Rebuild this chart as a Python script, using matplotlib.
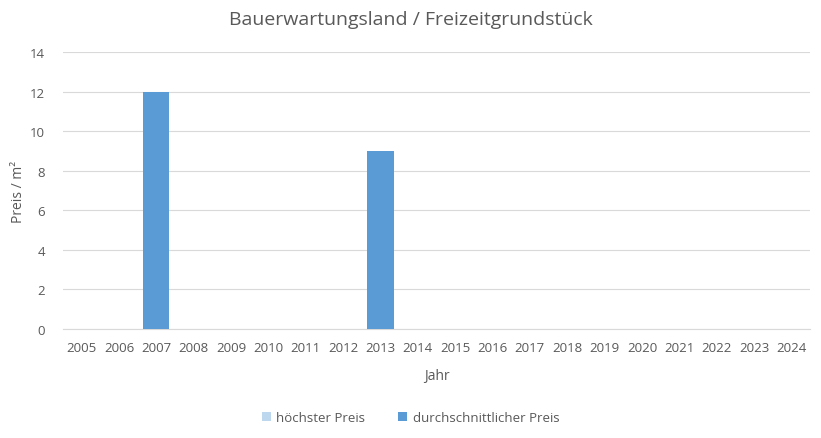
import matplotlib
matplotlib.use('Agg')
import matplotlib.pyplot as plt
import numpy as np

years = [str(y) for y in range(2005, 2025)]
hoechster = [0] * 20
durchschnitt = [0, 0, 12, 0, 0, 0, 0, 0, 9, 0, 0, 0, 0, 0, 0, 0, 0, 0, 0, 0]

plt.rcParams['font.family'] = ['Open Sans', 'DejaVu Sans']
grey = '#595959'

fig = plt.figure(figsize=(8.21, 4.39), dpi=100)
ax = fig.add_axes([0.0767, 0.2483, 0.91, 0.631])

x = np.arange(len(years))
ax.bar(x, hoechster, width=0.7, color='#BDD7EE', label='höchster Preis', zorder=2)
ax.bar(x, durchschnitt, width=0.7, color='#5B9BD5', label='durchschnittlicher Preis', zorder=3)

ax.set_xlim(-0.5, len(years) - 0.5)
ax.set_ylim(0, 14)
ax.set_yticks(range(0, 15, 2))
ax.set_xticks(x)
ax.set_xticklabels(years)
ax.grid(axis='y', color='#D9D9D9', linewidth=0.8, zorder=0)
for s in ['top', 'right', 'left']:
    ax.spines[s].set_visible(False)
ax.spines['bottom'].set_color('#D9D9D9')
ax.tick_params(axis='both', length=0, colors=grey, labelsize=9.5)
ax.tick_params(axis='y', pad=13)
ax.tick_params(axis='x', pad=9)

ax.set_xlabel('Jahr', color=grey, fontsize=10, labelpad=10)
ax.set_ylabel('Preis / m²', color=grey, fontsize=10, labelpad=3)
fig.suptitle('Bauerwartungsland / Freizeitgrundstück', color=grey, fontsize=14, y=0.975)

leg = fig.legend(loc='lower center', bbox_to_anchor=(0.5, 0.005), ncol=2, frameon=False,
                 fontsize=9.5, handlelength=0.7, handleheight=0.7, columnspacing=2.5,
                 handletextpad=0.4)
for t in leg.get_texts():
    t.set_color(grey)

fig.savefig('out.png', dpi=100)
